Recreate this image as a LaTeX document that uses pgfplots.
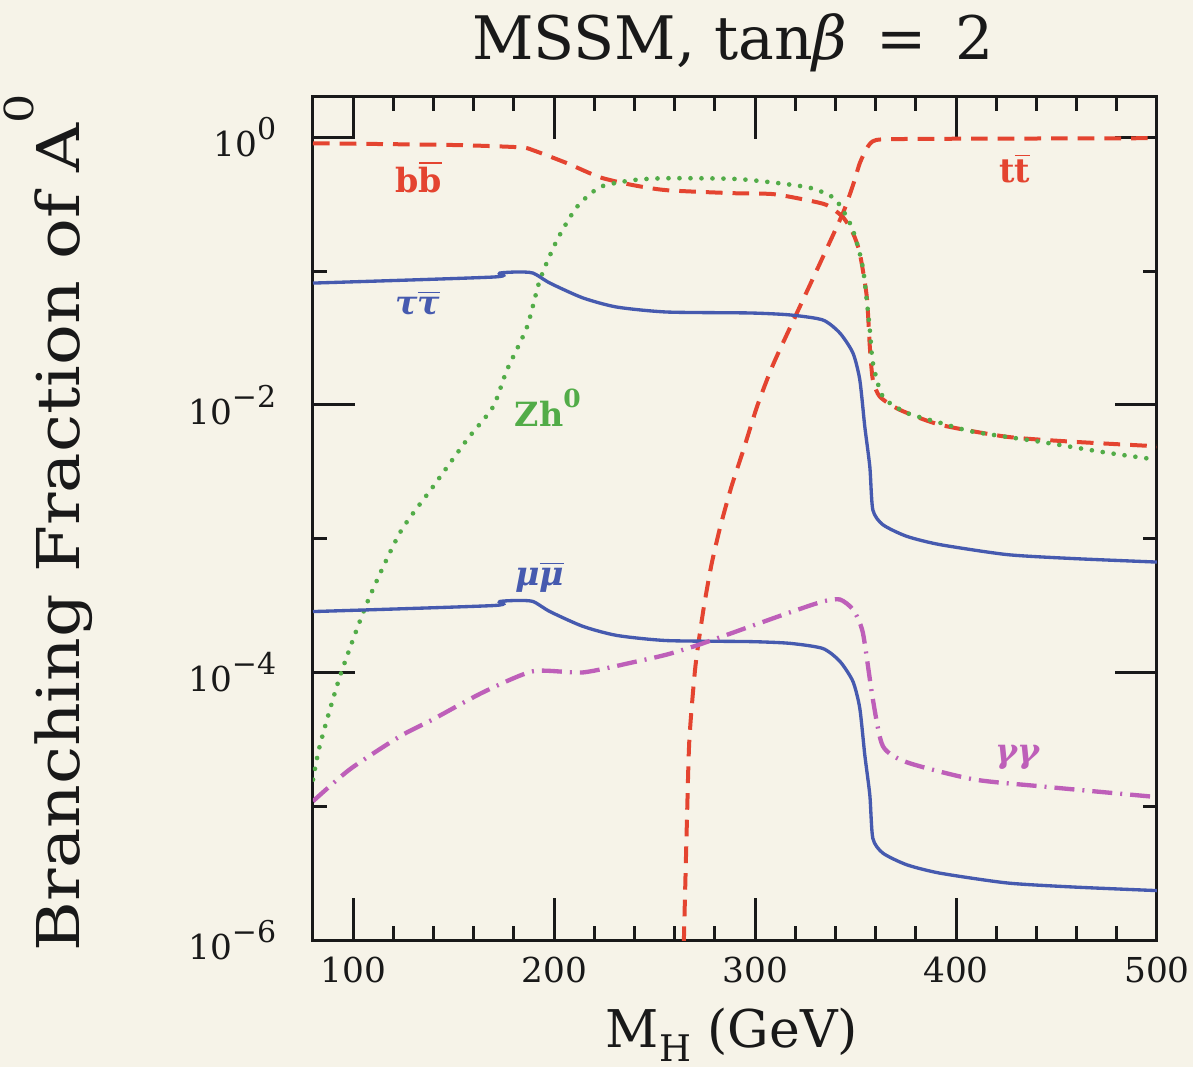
\documentclass[border=0pt]{standalone}
\usepackage{fontspec}
\setmainfont{DejaVu Serif}
\usepackage{pgfplots}
\pgfplotsset{compat=1.18}

\definecolor{paper}{RGB}{246,243,232}
\definecolor{qred}{RGB}{228,68,48}
\definecolor{zgreen}{RGB}{82,172,72}
\definecolor{lblue}{RGB}{70,90,175}
\definecolor{gmag}{RGB}{190,95,185}
\definecolor{ink}{RGB}{25,25,25}

% power-of-ten tick label with a large exponent
\newcommand\pw[1]{10\raisebox{0.5em}{\fontsize{9pt}{9pt}\selectfont #1}}
% antiparticle bar over a letter in the current font
\newcommand\anti[1]{$\overline{\hbox{#1}}$}

\begin{document}
\begin{tikzpicture}
\useasboundingbox (-93.9pt,-38.1pt) rectangle (264.0pt,282.0pt);
\fill[paper] (-93.9pt,-38.1pt) rectangle (264.0pt,282.0pt);

\begin{axis}[
  scale only axis, width=253.2pt, height=252.9pt,
  ymode=log,
  xmin=80, xmax=500, ymin=1e-6, ymax=2,
  axis line style={ink, line width=0.9pt},
  every tick/.style={ink, line width=0.9pt},
  major tick length=12.5pt, minor tick length=4.3pt,
  tick align=inside, tick pos=both,
  xtick={100,200,300,400,500},
  xticklabels={100,200,300,400,500},
  minor xtick={120,140,160,180,220,240,260,280,320,340,360,380,420,440,460,480},
  ytick={1,1e-2,1e-4,1e-6},
  yticklabels={\pw{0},\pw{−2},\pw{−4},\pw{−6}},
  minor ytick={1e-1,1e-3,1e-5},
  ticklabel style={font=\fontsize{10.3pt}{12pt}\selectfont, text=ink},
  xticklabel style={yshift=-1.5pt},
  yticklabel style={xshift=-7.5pt},
  every axis plot/.append style={smooth, tension=0.4},
  clip=true,
]

% b bbar
\addplot[qred, line width=1.2pt, dash pattern=on 5pt off 3pt] coordinates {
(80,0.902) (150,0.875) (183,0.841) (189.5,0.800) (206.4,0.640) (222.8,0.502) (239.2,0.439)
(256.1,0.402) (289,0.382) (308.9,0.376) (325.8,0.339) (335.7,0.311) (343.7,0.253)
(348.7,0.192) (352.1,0.136) (355.6,0.0640) (357.1,0.0271) (358.6,0.0154)
(362.1,0.0115) (372,0.00918) (392,0.00710) (425.3,0.00577) (458.1,0.00530) (500,0.00490)
};

% t tbar
\addplot[qred, line width=1.2pt, dash pattern=on 5pt off 3pt] coordinates {
(264.2,6e-7) (266.1,8.0e-6) (267.3,3.16e-5) (270.3,1.11e-4) (274.3,2.95e-4)
(278.3,6.40e-4) (282.7,1.23e-3) (288.2,2.44e-3) (294.2,4.61e-3) (301.1,9.83e-3)
(308.9,0.0199) (320.8,0.0486) (333.7,0.127) (343.7,0.271) (348.7,0.438)
(352.1,0.640) (355.6,0.828) (358.6,0.933) (364.6,0.966) (400,0.975) (500,0.984)
};

% Z h0
\addplot[zgreen, line width=1.4pt, line cap=round, dash pattern=on 0pt off 3.3pt] coordinates {
(80,1.58e-5) (83.5,2.88e-5) (93.4,9.33e-5) (106.9,3.31e-4) (123.3,1.11e-3)
(139.7,2.44e-3) (156.6,5.48e-3) (169.6,9.66e-3) (176.5,0.0182) (186.5,0.0382)
(192.9,0.0857) (201.4,0.170) (211.3,0.301) (222.8,0.424) (239.2,0.478)
(256.1,0.494) (292.4,0.486) (325.8,0.424) (338.7,0.356) (343.7,0.285)
(348.7,0.202) (353.6,0.107) (357.1,0.0363) (358.6,0.0206) (363.6,0.0115)
(375.5,0.00871) (392,0.00735) (408.4,0.00630) (441.7,0.00530) (475,0.00439) (500,0.00389)
};

% tau taubar
\addplot[lblue, line width=1.0pt] coordinates {
(80,0.0813) (169.6,0.0902) (173.0,0.0966) (181.5,0.0984) (189.5,0.0966)
(197.9,0.0813) (214.3,0.0630) (231.2,0.0538) (256.1,0.0494) (297.4,0.0486)
(317.3,0.0470) (333.7,0.0431) (342.2,0.0344) (348.7,0.0244) (352.1,0.0154)
(354.6,0.00686) (357.1,0.00344) (358.6,0.00164) (363.6,0.00127) (375.5,0.00104)
(392,0.000902) (425.3,0.000760) (458.1,0.000710) (500,0.000668)
};

% mu mubar
\addplot[lblue, line width=1.0pt] coordinates {
(80,2.85e-4) (169.6,3.16e-4) (173.0,3.39e-4) (181.5,3.45e-4) (189.5,3.39e-4)
(197.9,2.85e-4) (214.3,2.21e-4) (231.2,1.89e-4) (256.1,1.73e-4) (297.4,1.70e-4)
(317.3,1.65e-4) (333.7,1.51e-4) (342.2,1.21e-4) (348.7,8.56e-5) (352.1,5.40e-5)
(354.6,2.41e-5) (357.1,1.21e-5) (358.6,5.75e-6) (363.6,4.46e-6) (375.5,3.65e-6)
(392,3.16e-6) (425.3,2.67e-6) (458.1,2.49e-6) (500,2.34e-6)
};

% gamma gamma
\addplot[gmag, line width=1.3pt, dash pattern=on 6pt off 2.4pt on 0.6pt off 2.4pt] coordinates {
(80,1.09e-5) (98.4,1.89e-5) (123.3,3.33e-5) (139.7,4.46e-5) (164.6,7.10e-5)
(189.5,1.02e-4) (214.3,1.0e-4) (239.2,1.19e-4) (256.1,1.36e-4) (272.5,1.62e-4)
(297.4,2.20e-4) (317.3,2.81e-4) (333.7,3.39e-4) (342.2,3.51e-4) (348.7,2.95e-4)
(353.6,1.99e-4) (358.6,6.30e-5) (363.6,2.81e-5) (375.5,2.13e-5) (408.4,1.59e-5)
(441.7,1.41e-5) (500,1.17e-5)
};

% channel labels
\begin{scope}[every node/.style={font=\fontsize{10pt}{12pt}\selectfont\bfseries, inner sep=0pt}]
\node[text=qred] at (axis cs:132.7,0.503) {b\anti{b}};
\node[text=qred] at (axis cs:429.3,0.587) {t\anti{t}};
\node[text=lblue, font=\fontsize{10pt}{12pt}\selectfont\bfseries\itshape] at (axis cs:132.2,0.0577) {τ\anti{τ}};
\node[text=zgreen] at (axis cs:196.9,0.0095) {Zh\raisebox{0.55em}{\fontsize{7.5pt}{8pt}\selectfont 0}};
\node[text=lblue, font=\fontsize{10pt}{12pt}\selectfont\bfseries\itshape] at (axis cs:192.9,5.2e-4) {μ\anti{μ}};
\node[text=gmag, font=\fontsize{10pt}{12pt}\selectfont\bfseries\itshape] at (axis cs:430.7,2.32e-5) {γγ};
\end{scope}
\end{axis}

% titles and axis labels
\node[anchor=base, text=ink, font=\fontsize{18pt}{20pt}\selectfont] at (126pt,264pt)
  {MSSM, tan\textit{β} \,=\, 2};
\node[anchor=base, text=ink, font=\fontsize{15.6pt}{18pt}\selectfont] at (125.7pt,-32.2pt)
  {M\raisebox{-0.28em}{\fontsize{11pt}{12pt}\selectfont H} (GeV)};
\node[anchor=base, rotate=90, text=ink, font=\fontsize{17.7pt}{20pt}\selectfont] at (-69.9pt,125.25pt)
  {\scalebox{1.15}[1]{Branching Fraction of A\raisebox{0.78em}{\fontsize{12pt}{12pt}\selectfont 0}}};
\end{tikzpicture}
\end{document}
